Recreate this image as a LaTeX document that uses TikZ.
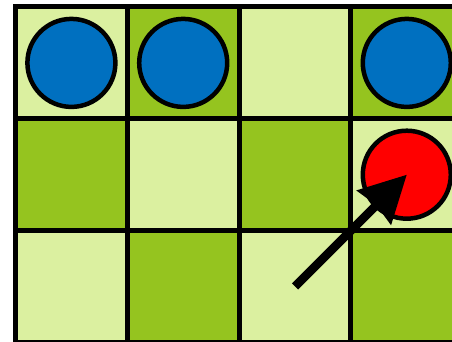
\documentclass[tikz,border=0pt]{standalone}
\usetikzlibrary{arrows.meta}

\definecolor{lightsq}{RGB}{219,240,160}
\definecolor{darksq}{RGB}{149,196,31}
\definecolor{bluepc}{RGB}{0,112,192}
\definecolor{redpc}{RGB}{255,0,0}

\begin{document}
\begin{tikzpicture}[x=1pt,y=-1pt,>={Stealth[length=46pt,width=47pt,inset=3pt]}]
            \useasboundingbox (0,0) rectangle (452,342);
            \tikzset{%
            square/.style={draw,line width=5pt,minimum size=111.8pt,
            inner sep=0pt,outer sep=0pt},
            piece/.style={circle,draw,line width=4.5pt,minimum size=88pt,
            inner sep=0pt}
            }

            % board
            \foreach \r in {1,2,3}
            \foreach \c in {1,...,4} {%
            \pgfmathtruncatemacro{\k}{\r+\c}
            \ifodd\k \def\sqcol{darksq}\else\def\sqcol{lightsq}\fi
            \node[square,fill=\sqcol] (sq-\r-\c)
            at ({71.4+111.8*(\c-1)},{62.9+111.8*(\r-1)}) {};
            };

            % pieces
            \node[piece,fill=bluepc] (blue-1) at (sq-1-1) {};
            \node[piece,fill=bluepc] (blue-2) at (sq-1-2) {};
            \node[piece,fill=bluepc] (blue-4) at (sq-1-4) {};
            \node[piece,fill=redpc]  (red)    at (sq-2-4) {};

            \path
            % (sq-3-3)    edge[->]  (red);
            (sq-3-3.center)    edge[->,line width=8.5pt]  (red.center);
        \end{tikzpicture}
\end{document}
